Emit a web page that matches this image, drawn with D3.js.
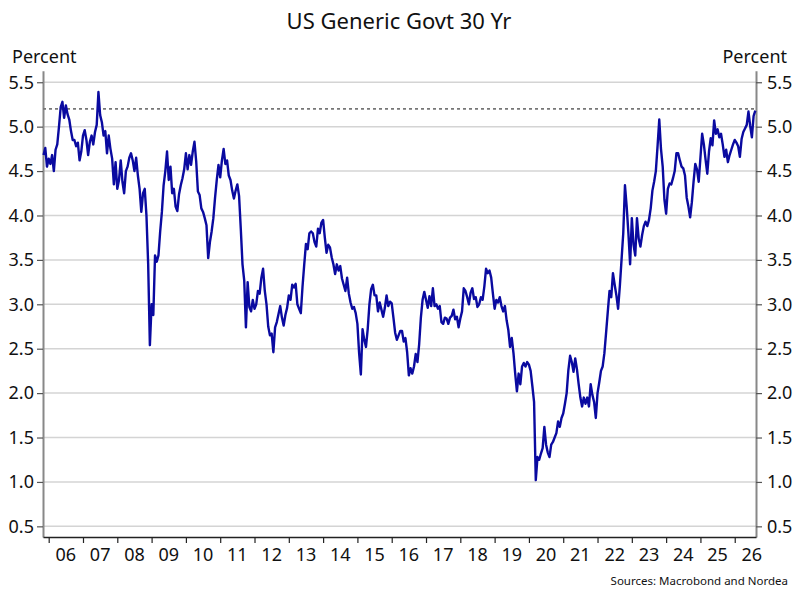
<!DOCTYPE html>
<html>
<head>
<meta charset="utf-8">
<script src="https://cdn.jsdelivr.net/npm/d3@7"></script>
<style>
  body { margin: 0; background: #fff; }
  svg text { font-family: "Noto Sans", sans-serif; fill: #111; }
</style>
</head>
<body>
<svg width="800" height="601"></svg>
<script>
// US 30Y generic yield at ~20 samples per year
const y2005 = [4.68, 4.76, 4.55]; // from sample 17 (Nov 2005)
const y2006 = [4.64, 4.58, 4.68, 4.50, 4.74, 4.80, 5.00, 5.22, 5.28, 5.10, 5.24, 5.14, 5.08, 4.95, 4.85, 4.85, 4.78, 4.82, 4.62, 4.72];
const y2007 = [4.90, 4.96, 4.85, 4.68, 4.83, 4.90, 4.80, 4.94, 5.02, 5.39, 5.13, 5.05, 4.90, 4.95, 4.70, 4.90, 4.75, 4.64, 4.35, 4.60];
const y2008 = [4.30, 4.40, 4.62, 4.38, 4.25, 4.50, 4.55, 4.65, 4.70, 4.62, 4.50, 4.65, 4.45, 4.30, 4.04, 4.25, 4.30, 4.00, 3.45, 2.54];
const y2009 = [3.00, 2.88, 3.55, 3.48, 3.55, 3.82, 4.04, 4.34, 4.50, 4.72, 4.40, 4.55, 4.25, 4.30, 4.10, 4.05, 4.24, 4.34, 4.42, 4.52];
const y2010 = [4.70, 4.52, 4.68, 4.57, 4.72, 4.83, 4.61, 4.27, 4.23, 4.08, 4.04, 3.97, 3.89, 3.52, 3.70, 3.82, 3.97, 4.20, 4.40, 4.57];
const y2011 = [4.43, 4.62, 4.75, 4.58, 4.62, 4.45, 4.40, 4.28, 4.19, 4.28, 4.35, 4.22, 3.85, 3.45, 3.27, 2.74, 3.25, 2.97, 2.92, 3.05];
const y2012 = [2.95, 3.00, 3.15, 3.12, 3.30, 3.40, 3.15, 3.00, 2.75, 2.65, 2.67, 2.46, 2.74, 2.80, 2.89, 2.98, 2.85, 2.76, 2.88, 2.96];
const y2013 = [3.10, 3.05, 3.22, 3.19, 3.23, 3.00, 2.95, 2.90, 3.20, 3.45, 3.68, 3.62, 3.80, 3.82, 3.80, 3.70, 3.65, 3.85, 3.80, 3.92];
const y2014 = [3.95, 3.75, 3.58, 3.67, 3.64, 3.53, 3.45, 3.34, 3.45, 3.38, 3.43, 3.29, 3.22, 3.15, 3.30, 3.12, 3.02, 2.95, 2.97, 2.90];
const y2015 = [2.78, 2.45, 2.21, 2.72, 2.60, 2.52, 2.72, 3.00, 3.17, 3.22, 3.10, 3.10, 2.92, 3.02, 2.94, 2.86, 2.96, 3.10, 2.98, 3.03];
const y2016 = [3.01, 2.85, 2.68, 2.60, 2.65, 2.70, 2.70, 2.58, 2.62, 2.46, 2.20, 2.28, 2.22, 2.30, 2.44, 2.35, 2.55, 2.85, 3.05, 3.14];
const y2017 = [3.05, 2.96, 3.09, 2.98, 3.18, 2.98, 3.00, 2.95, 2.98, 2.80, 2.78, 2.85, 2.84, 2.78, 2.85, 2.87, 2.94, 2.83, 2.86, 2.74];
const y2018 = [2.84, 2.92, 3.18, 3.15, 3.08, 3.00, 3.13, 3.18, 3.06, 3.08, 2.97, 3.00, 3.08, 3.05, 3.20, 3.40, 3.35, 3.38, 3.30, 3.12];
const y2019 = [2.95, 3.05, 3.02, 3.08, 2.98, 2.92, 2.98, 2.82, 2.71, 2.52, 2.62, 2.45, 2.22, 2.02, 2.22, 2.10, 2.30, 2.34, 2.30, 2.35];
const y2020 = [2.32, 2.25, 2.08, 1.90, 1.02, 1.28, 1.25, 1.32, 1.38, 1.62, 1.42, 1.33, 1.28, 1.42, 1.45, 1.50, 1.55, 1.68, 1.62, 1.72];
const y2021 = [1.77, 1.88, 2.00, 2.26, 2.42, 2.35, 2.24, 2.39, 2.27, 2.10, 1.95, 1.85, 1.95, 1.88, 1.95, 1.85, 2.10, 1.98, 1.90, 1.72];
const y2022 = [2.00, 2.12, 2.25, 2.30, 2.45, 2.68, 2.92, 3.15, 3.08, 3.35, 3.22, 3.10, 2.95, 3.20, 3.50, 3.80, 4.34, 4.10, 3.80, 3.45];
const y2023 = [3.97, 3.67, 3.55, 3.97, 3.74, 3.65, 3.78, 3.88, 3.93, 3.88, 3.95, 4.08, 4.28, 4.38, 4.50, 4.78, 5.08, 4.75, 4.55, 4.18];
const y2024 = [4.02, 4.30, 4.36, 4.35, 4.42, 4.50, 4.70, 4.70, 4.62, 4.55, 4.53, 4.45, 4.20, 4.10, 3.98, 4.15, 4.38, 4.58, 4.52, 4.38];
const y2025 = [4.65, 4.92, 4.80, 4.63, 4.47, 4.72, 4.87, 4.79, 5.07, 4.92, 4.97, 4.88, 4.92, 4.80, 4.66, 4.74, 4.60, 4.68, 4.74, 4.80];
const y2026 = [4.85, 4.82, 4.78, 4.66, 4.86, 4.94, 4.98, 5.02, 5.17, 5.01, 4.88, 5.12, 5.18];

const years = d3.range(2005, 2027);
const yearSeries = [y2005, y2006, y2007, y2008, y2009, y2010, y2011, y2012, y2013, y2014, y2015,
                    y2016, y2017, y2018, y2019, y2020, y2021, y2022, y2023, y2024, y2025, y2026];
const yTicks = [0.5, 1.0, 1.5, 2.0, 2.5, 3.0, 3.5, 4.0, 4.5, 5.0, 5.5];
const xTickYears = d3.range(2006, 2027);
const refLevel = 5.2;

// 20 samples per year; 2005 starts at sample 17
const data = [];
yearSeries.forEach((vals, k) => {
  const first = years[k] === 2005 ? 17 : 0;
  vals.forEach((v, i) => data.push({t: years[k] + (first + i) / 20, v: v}));
});

function drawChart() {
  const svg = d3.select("svg");
  const left = 43, right = 756, top = 70.7, bottom = 537;

  const x = d3.scaleLinear().domain([2005.834, 2026.62]).range([left, right]);
  const y = d3.scaleLinear().domain([0.38, 5.63]).range([bottom, top]);

  // gridlines
  svg.append("g").selectAll("line")
    .data(yTicks).enter().append("line")
    .attr("x1", left).attr("x2", right)
    .attr("y1", d => y(d)).attr("y2", d => y(d))
    .style("stroke", "#d4d4d4").style("stroke-width", 1.5);

  // left axis
  const yAxisL = d3.axisLeft(y).tickValues(yTicks).tickFormat(d3.format(".1f")).tickSize(6).tickSizeOuter(0);
  const gl = svg.append("g").attr("id", "yAxisL")
    .attr("transform", `translate(${left},0)`).call(yAxisL);
  // right axis
  const yAxisR = d3.axisRight(y).tickValues(yTicks).tickFormat(d3.format(".1f")).tickSize(6).tickSizeOuter(0);
  const gr = svg.append("g").attr("id", "yAxisR")
    .attr("transform", `translate(${right},0)`).call(yAxisR);
  [gl, gr].forEach(g => {
    g.select(".domain").style("stroke", "#888").style("stroke-width", 2);
    g.selectAll(".tick line").style("stroke", "#555").style("stroke-width", 1.2);
    g.selectAll(".tick text").style("font-size", "18px").style("fill", "#111");
  });
  gl.selectAll(".tick text").attr("x", -9);
  gr.selectAll(".tick text").attr("x", 11);

  // bottom axis: ticks on year boundaries, labels centred in each year
  const xAxis = d3.axisBottom(x).tickValues(xTickYears).tickSize(6).tickSizeOuter(0).tickFormat("");
  const gx = svg.append("g").attr("id", "xAxisG")
    .attr("transform", `translate(0,${bottom})`).call(xAxis);
  gx.select(".domain").style("stroke", "#222").style("stroke-width", 1.5);
  gx.selectAll(".tick line").style("stroke", "#222").style("stroke-width", 1.2);
  gx.selectAll("text.year")
    .data(xTickYears).enter().append("text")
    .attr("class", "year")
    .attr("x", d => x(d + 0.5)).attr("y", 24)
    .attr("text-anchor", "middle")
    .style("font-size", "18px")
    .text(d => String(d % 100).padStart(2, "0"));

  // reference level
  svg.append("line")
    .attr("x1", left).attr("x2", right)
    .attr("y1", y(refLevel)).attr("y2", y(refLevel))
    .style("stroke", "#777").style("stroke-width", 1.6)
    .style("stroke-dasharray", "3,3");

  // series
  const line = d3.line().x(d => x(d.t)).y(d => y(d.v));
  svg.append("path").datum(data)
    .attr("d", line)
    .style("fill", "none")
    .style("stroke", "#0a0aa0")
    .style("stroke-width", 2.4)
    .style("stroke-linejoin", "round");

  // titles and labels
  svg.append("text").attr("x", 399).attr("y", 29).attr("text-anchor", "middle")
    .style("font-size", "22px").text("US Generic Govt 30 Yr");
  svg.append("text").attr("x", 12).attr("y", 63).style("font-size", "18px").text("Percent");
  svg.append("text").attr("x", 787).attr("y", 63).attr("text-anchor", "end")
    .style("font-size", "18px").text("Percent");
  svg.append("text").attr("x", 788).attr("y", 585).attr("text-anchor", "end")
    .style("font-size", "11.5px").text("Sources: Macrobond and Nordea");
}

drawChart();
</script>
</body>
</html>
